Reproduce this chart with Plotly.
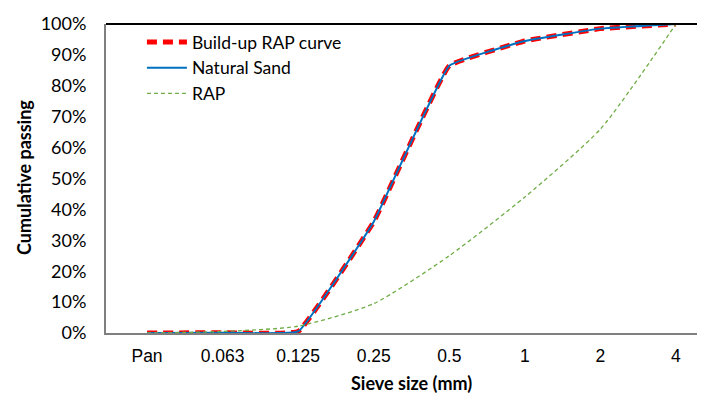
import plotly.graph_objects as go

categories = ["Pan", "0.063", "0.125", "0.25", "0.5", "1", "2", "4"]
buildup_rap = [0.0, 0.1, 0.5, 36.0, 86.5, 94.5, 98.5, 100.0]
natural_sand = [0.0, 0.1, 0.5, 36.0, 86.5, 94.5, 98.5, 100.0]
rap = [0.0, 0.5, 2.2, 9.5, 25.0, 44.0, 66.0, 100.0]

xpos = list(range(len(categories)))
CAL = "Lato, 'Open Sans', sans-serif"
ARIAL = "'Liberation Sans', Arial, sans-serif"

fig = go.Figure()
fig.add_trace(go.Scatter(
    x=xpos, y=[v / 100 for v in buildup_rap], name="Build-up RAP curve", mode="lines",
    line=dict(color="#FF0000", width=5, dash="10px,6px", shape="spline", smoothing=0.25)))
fig.add_trace(go.Scatter(
    x=xpos, y=[v / 100 for v in natural_sand], name="Natural Sand", mode="lines",
    line=dict(color="#0070C0", width=2, shape="spline", smoothing=0.25)))
fig.add_trace(go.Scatter(
    x=xpos, y=[v / 100 for v in rap], name="RAP", mode="lines",
    line=dict(color="#70AD47", width=1.3, dash="4px,3px", shape="spline", smoothing=0.6)))

# page body has an 8px margin, so the figure is drawn 8px smaller and shifted
fig.update_layout(
    width=697, height=386,
    margin=dict(l=98, r=0, t=16, b=61, autoexpand=False),
    paper_bgcolor="white", plot_bgcolor="white",
    showlegend=True,
    legend=dict(x=0.06, y=1.0, xanchor="left", yanchor="top",
                bgcolor="rgba(0,0,0,0)", font=dict(family=CAL, size=17.5, color="black"),
                itemwidth=40, tracegroupgap=0),
    xaxis=dict(range=[-0.543, 7.384], tickmode="array", tickvals=xpos, ticktext=categories,
               showgrid=False, zeroline=False, showline=True, linecolor="#7F7F7F", linewidth=2,
               ticks="", automargin=False, ticklabelstandoff=6,
               tickfont=dict(family=ARIAL, size=17.5, color="black")),
    yaxis=dict(range=[0, 1], tickmode="array", tickvals=[i / 10 for i in range(11)],
               tickformat=".0%", showgrid=False, zeroline=False, showline=True,
               linecolor="#7F7F7F", linewidth=2, ticks="", automargin=False,
               ticklabelstandoff=14,
               tickfont=dict(family=CAL, size=18, color="black")),
)
fig.add_shape(type="line", xref="paper", yref="paper", x0=0, x1=1, y0=1, y1=1,
              line=dict(color="black", width=2))
fig.add_annotation(text="<b>Sieve size (mm)</b>", xref="paper", yref="paper",
                   x=(411 - 106) / 599, y=-(383 - 333) / 309, xanchor="center", yanchor="middle",
                   showarrow=False, font=dict(family=CAL, size=18, color="black"))
fig.add_annotation(text="<b>Cumulative passing</b>", xref="paper", yref="paper",
                   x=-(106 - 24) / 599, y=(333 - 178) / 309, xanchor="center", yanchor="middle",
                   textangle=-90, showarrow=False, font=dict(family=CAL, size=18, color="black"))

fig.write_html("out.html")
